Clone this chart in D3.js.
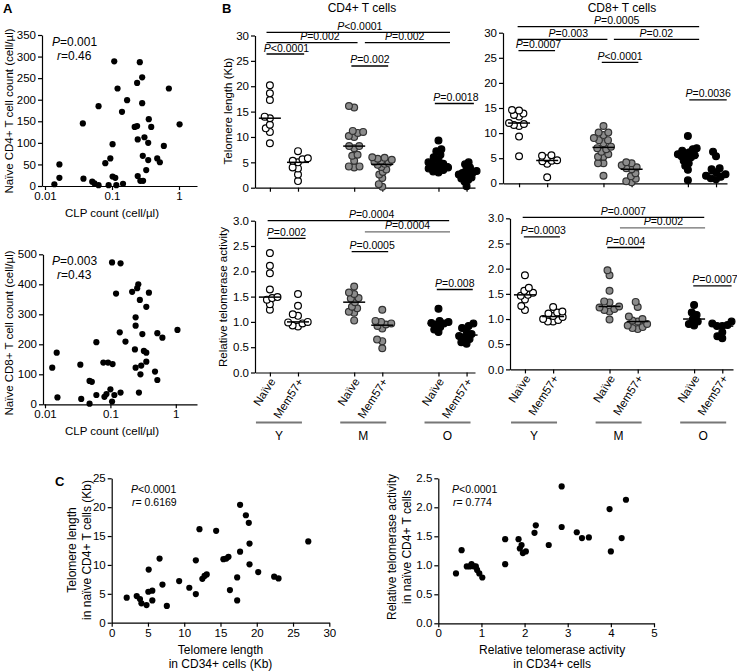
<!DOCTYPE html>
<html><head><meta charset="utf-8">
<script src="https://cdn.jsdelivr.net/npm/d3@7"></script>
<style>body{margin:0;background:#fff} svg{display:block}</style>
</head><body><script>
// ---------- DATA ----------
// Panel A
const clpA1 = [0.0138,0.0164,0.0164,0.0367,0.0375,0.0507,0.0548,0.063,0.063,0.0794,0.0944,0.089,0.102,0.112,0.116,0.108,0.121,0.102,0.141,0.146,0.168,0.218,0.237,0.237,0.26,0.282,0.282,0.242,0.242,0.265,0.291,0.305,0.288,0.324,0.347,0.354,0.385,0.347,0.473,0.518,0.594,0.706,1.02];
const naiveCD4A = [4,50,19,145,17,10,6,185,2,53,64,2,22,19,2,289,226,97,172,5,199,137,139,239,287,252,192,108,23,12,12,113,70,37,60,155,137,100,64,55,93,226,143];
const clpA2 = [0.0129,0.0151,0.0347,0.061,0.106,0.143,0.122,0.139,0.170,0.078,0.092,0.108,0.215,0.267,0.257,0.282,0.388,0.354,0.243,0.243,0.308,0.237,0.325,0.354,0.354,0.296,0.243,0.288,0.522,0.624,1.06,0.481,0.522,0.0155,0.0358,0.048,0.048,0.052,0.061,0.081,0.087,0.1,0.106,0.115,0.143,0.273];
const naiveCD8A = [122,172,132,207,473,470,369,240,209,139,139,134,375,400,387,348,372,325,290,262,234,183,178,172,142,129,122,100,237,222,248,109,81,23,18,2,78,75,31,25,34,50,9,31,39,39];
const statsA = [["=0.001","=0.46"],["=0.003","=0.43"]];

// Panel B
const posB = [0,1,3,4,6,7];
const catLabels = ["Naïve","Mem57+","Naïve","Mem57+","Naïve","Mem57+"];
const ageGroups = ["Y","M","O"];
const cd4Telomere = [
  [20.2,18.6,17.3,14.0,13.7,12.4,11.7,11.0,8.75],
  [7.2,5.8,5.6,5.3,5.0,4.0,3.8,2.6,1.3],
  [16.1,15.8,11.2,11.0,10.8,10.2,10.0,8.2,8.2,7.8,6.5,6.3,5.3,4.2,4.0,4.2],
  [6.0,5.9,5.7,5.5,5.3,5.1,4.9,4.7,4.5,4.1,3.6,3.1,2.6,1.9,0.7,0.2],
  [9.3,7.6,7.2,6.5,6.0,5.5,5.0,4.7,4.5,4.2,4.0,3.8,3.5,3.2,3.0],
  [5.0,4.6,4.0,3.6,3.3,3.0,2.9,2.8,2.6,2.3,2.0,1.8,1.5,1.2,0.3]];
const cd8Telomere = [
  [14.6,14.5,13.9,13.6,13.3,12.0,11.8,11.6,11.4,9.3,5.4],
  [5.6,5.5,5.0,4.6,4.5,4.4,3.9,1.2],
  [11.4,10.1,10.1,9.6,9.0,8.6,8.6,8.0,7.3,7.0,6.8,6.3,5.8,5.3,5.3,4.0,4.0,1.5],
  [4.2,4.0,3.6,3.2,3.0,2.8,2.0,1.4,0.9,0.4,0.2],
  [9.4,7.0,6.8,6.5,6.2,6.0,5.8,5.6,5.4,5.2,5.0,4.5,4.0,3.5,2.7,0.6],
  [6.3,5.4,3.0,2.8,2.2,1.8,1.5,1.3,1.0,0.8]];
const cd4Telomerase = [
  [2.36,2.11,1.96,1.64,1.49,1.47,1.44,1.35,1.24],
  [1.55,1.32,1.15,1.12,1.0,0.99,0.97,0.93,0.91],
  [1.70,1.58,1.55,1.47,1.46,1.39,1.30,1.27,1.20,1.18,1.03],
  [1.24,1.02,1.0,0.97,0.95,0.92,0.87,0.65,0.62,0.48],
  [1.26,1.02,1.0,0.98,0.97,0.95,0.9,0.85,0.8],
  [0.97,0.92,0.88,0.82,0.76,0.72,0.70,0.66,0.60,0.57]];
const cd8Telomerase = [
  [1.87,1.62,1.56,1.52,1.48,1.46,1.39,1.26,1.18],
  [1.24,1.15,1.13,1.11,1.06,1.04,1.0,0.98,0.95,0.95],
  [1.97,1.87,1.56,1.35,1.33,1.25,1.23,1.2,1.18,1.15,0.99],
  [1.34,1.24,1.05,1.0,0.97,0.95,0.9,0.87,0.84,0.82,0.80],
  [1.28,1.13,1.08,1.0,0.95,0.90,0.87],
  [0.95,0.91,0.88,0.86,0.86,0.74,0.66,0.62]];
// significance brackets: a,b = category positions, y = data value, c = text centre, t = text
const pCD4Tel = [
  {a:-0.12,b:6.41,y:30.63,c:3.20,t:"<0.0001"},
  {a:-0.12,b:3.12,y:28.58,c:1.78,t:"=0.002"},
  {a:3.38,b:6.41,y:28.58,c:4.80,t:"=0.002"},
  {a:-0.12,b:1.22,y:26.35,c:0.59,t:"<0.0001"},
  {a:2.9,b:4.21,y:23.99,c:3.56,t:"=0.002"},
  {a:5.87,b:7.26,y:16.6,c:6.62,t:"=0.0018"}];
const pCD8Tel = [
  {a:-0.05,b:6.40,y:31.2,c:3.47,t:"=0.0005"},
  {a:-0.05,b:3.14,y:28.69,c:1.75,t:"=0.003"},
  {a:3.37,b:6.40,y:28.69,c:4.88,t:"=0.02"},
  {a:-0.02,b:1.28,y:26.41,c:0.69,t:"=0.0007"},
  {a:2.94,b:4.24,y:24.1,c:3.59,t:"<0.0001"},
  {a:6.05,b:7.38,y:16.6,c:6.72,t:"=0.0036"}];
const pCD4Act = [
  {a:-0.08,b:6.38,y:3.0,c:3.62,t:"=0.0004"},
  {a:3.38,b:6.41,y:2.78,c:4.90,t:"=0.0004",grey:true},
  {a:-0.06,b:1.27,y:2.65,c:0.59,t:"=0.002"},
  {a:2.91,b:4.21,y:2.39,c:3.64,t:"=0.0005"},
  {a:5.94,b:7.22,y:1.64,c:6.58,t:"=0.008"}];
const pCD8Act = [
  {a:-0.08,b:6.36,y:3.02,c:3.49,t:"=0.0007"},
  {a:3.37,b:6.39,y:2.81,c:4.91,t:"=0.002",grey:true},
  {a:-0.04,b:1.24,y:2.63,c:0.65,t:"=0.0003"},
  {a:2.92,b:4.22,y:2.42,c:3.57,t:"=0.004"},
  {a:5.97,b:7.33,y:1.66,c:6.74,t:"=0.0007"}];

// Panel C
const telCD34 = [2.07,3.45,3.9,4.1,4.8,5.1,5.05,5.6,5.6,6.6,7.0,7.6,9.3,10.7,11.6,11.6,12.1,12.5,12.8,13.1,14.4,15.4,15.8,16.1,16.3,17.3,17.3,17.7,17.7,18.5,18.9,19.0,19.0,20.2,22.4,23.0,27.1];
const telNaiveCD4 = [4.33,4.61,4.1,3.35,3.06,9.2,5.36,5.54,3.86,11.1,6.6,2.9,7.2,6.05,4.96,10.8,16.2,7.6,8.1,8.36,15.9,11.0,11.1,11.4,5.65,3.86,7.84,20.4,12.3,18.6,17.3,13.7,10.1,8.77,7.96,7.67,14.07];
const actCD34 = [0.41,0.54,0.66,0.73,0.77,0.83,0.87,0.9,0.95,1.02,1.55,1.55,1.86,1.89,1.93,1.96,2.03,2.23,2.26,2.56,2.86,2.86,3.21,3.33,3.49,3.97,4.0,4.25,4.35];
const actNaiveCD4 = [0.86,1.26,0.98,0.98,1.02,0.98,0.98,0.92,0.86,0.79,1.45,1.02,1.45,1.29,1.35,1.21,1.24,1.56,1.69,1.35,2.36,1.66,1.57,1.47,1.48,1.97,1.24,1.47,2.13];
const statsC = [["<0.0001","= 0.6169"],["<0.0001","= 0.774"]];

// ---------- DRAW ----------
const F = '"Liberation Sans", Arial, Helvetica, sans-serif';
const svg = d3.select("body").append("svg").attr("width",737).attr("height",672)
  .style("font-family",F);

function styleAxis(g, fs){
  g.attr("font-family",F).attr("font-size",fs);
  g.selectAll(".domain").attr("stroke","#000").attr("stroke-width",1.2);
  g.selectAll(".tick line").attr("stroke","#000").attr("stroke-width",1.2);
  g.selectAll(".tick text").attr("fill","#000");
  return g;
}
function text(x,y,s,opt={}){
  const t = svg.append("text").attr("x",x).attr("y",y).text(s)
    .attr("font-size",opt.fs||11.5).attr("text-anchor",opt.anchor||"start").attr("fill","#000");
  if(opt.rot!==undefined) t.attr("x",null).attr("y",null).attr("transform",`translate(${x},${y}) rotate(${opt.rot})`);
  if(opt.bold) t.attr("font-weight","bold");
  return t;
}
function statText(x,y,sym,rest,fs,anchor){
  const t = svg.append("text").attr("x",x).attr("y",y).attr("font-size",fs).attr("text-anchor",anchor||"start").attr("fill","#000");
  t.append("tspan").attr("font-style","italic").text(sym);
  t.append("tspan").text(rest);
  return t;
}

// Panel labels
text(3,13,"A",{fs:13,bold:true});
text(222,13,"B",{fs:13,bold:true});
text(55,486,"C",{fs:13,bold:true});

// ---- Panel A ----
function scatterA(cfg){
  const dec = cfg.dec;
  const x = d3.scaleLog().domain([Math.pow(10,-2-(45-cfg.x0)/dec), Math.pow(10,-2+(197-45)/dec)]).range([cfg.x0,197]);
  const y = d3.scaleLinear().domain([0,cfg.ymax]).range([cfg.yBot,cfg.yTop]);
  styleAxis(svg.append("g").attr("transform",`translate(0,${cfg.yBot})`)
    .call(d3.axisBottom(x).tickValues([0.01,0.1,1]).tickFormat(d=>d===1?"1":String(d)).tickSize(4).tickSizeOuter(0).tickPadding(2)),11.5);
  styleAxis(svg.append("g").attr("transform",`translate(${cfg.x0},0)`)
    .call(d3.axisLeft(y).tickValues(d3.range(0,cfg.ymax+1,cfg.step)).tickSize(4).tickSizeOuter(0).tickPadding(2)),11.5);
  svg.append("g").selectAll("circle").data(cfg.xs).join("circle")
    .attr("cx",d=>x(d)).attr("cy",(d,i)=>y(cfg.ys[i])).attr("r",3.1).attr("fill","#000");
  statText(52,cfg.yTop+11,"P",cfg.stats[0],12);
  statText(57,cfg.yTop+25,"r",cfg.stats[1],12);
  text(13,cfg.titleY,cfg.ytitle,{rot:-90,anchor:"middle"});
  text(112,cfg.yBot+31,"CLP count (cell/µl)",{anchor:"middle"});
}
scatterA({x0:42,dec:67,ymax:350,step:50,yBot:186,yTop:35,xs:clpA1,ys:naiveCD4A,stats:statsA[0],
  ytitle:"Naïve CD4+ T cell count (cell/µl)",titleY:111});
scatterA({x0:43,dec:65.4,ymax:500,step:100,yBot:404.3,yTop:254.3,xs:clpA2,ys:naiveCD8A,stats:statsA[1],
  ytitle:"Naïve CD8+ T cell count (cell/µl)",titleY:333});

// ---- Panel B ----
function swarm(values, cy, r, halfMax){
  const d = 1.6*r;
  const pts = values.map(v=>({v, y:cy(v)})).sort((a,b)=>b.y-a.y);
  const placed=[];
  pts.forEach(p=>{
    const forb=[];
    placed.forEach(q=>{const dy=Math.abs(q.y-p.y); if(dy<d){const w=Math.sqrt(d*d-dy*dy); forb.push([q.dx-w,q.dx+w]);}});
    const cands=[0]; forb.forEach(f=>cands.push(f[0],f[1]));
    cands.sort((a,b)=>Math.abs(a)-Math.abs(b)||a-b);
    for(const c of cands){ if(forb.every(f=>c<=f[0]+1e-6||c>=f[1]-1e-6)){p.dx=c;break;} }
    placed.push(p);
  });
  const m = d3.max(pts,p=>Math.abs(p.dx));
  if(m>halfMax) pts.forEach(p=>p.dx*=halfMax/m);
  return pts;
}
const fills = ["#fff","#fff","#8c8c8c","#8c8c8c","#000","#000"];
function strip(cfg){
  const x = d3.scaleLinear().domain(cfg.dom).range([cfg.x0,cfg.x1]);
  const y = d3.scaleLinear().domain([0,cfg.ymax]).range([cfg.yBot,cfg.yTop]);
  styleAxis(svg.append("g").attr("transform",`translate(${cfg.x0},0)`)
    .call(d3.axisLeft(y).tickValues(cfg.ticks).tickFormat(cfg.fmt).tickSize(4).tickSizeOuter(0).tickPadding(2)),11.5);
  styleAxis(svg.append("g").attr("transform",`translate(0,${cfg.yBot})`)
    .call(d3.axisBottom(x).tickValues(posB).tickFormat("").tickSize(4).tickSizeOuter(0)),11);
  const r=3.4;
  cfg.data.forEach((vals,i)=>{
    const cx = x(posB[i]);
    const pts = swarm(vals,y,r,10);
    svg.append("g").selectAll("circle").data(pts).join("circle")
      .attr("cx",d=>cx+d.dx).attr("cy",d=>d.y).attr("r",r)
      .attr("fill",fills[i]).attr("stroke",i<2?"#000":(i<4?"#333":"#000")).attr("stroke-width",1.2);
    const med = d3.median(vals);
    svg.append("line").attr("x1",cx-11).attr("x2",cx+11).attr("y1",y(med)).attr("y2",y(med))
      .attr("stroke","#000").attr("stroke-width",1.5);
  });
  cfg.brackets.forEach(b=>{
    const yy = y(b.y);
    svg.append("line").attr("x1",x(b.a)).attr("x2",x(b.b)).attr("y1",yy).attr("y2",yy)
      .attr("stroke",b.grey?"#6e6e6e":"#000").attr("stroke-width",1.3);
    statText(x(b.c),yy-2.5,"P",b.t,10.5,"middle");
  });
  if(cfg.labels){
    posB.forEach((p,i)=>{
      text(x(p)+6,cfg.yBot+9,catLabels[i],{rot:-57,anchor:"end",fs:11.5});
    });
    ageGroups.forEach((a,k)=>{
      const c = x(posB[2*k]+0.5)-5;
      svg.append("line").attr("x1",c-23).attr("x2",c+23).attr("y1",422.5).attr("y2",422.5)
        .attr("stroke","#777").attr("stroke-width",2);
      text(c,440,a,{anchor:"middle",fs:12});
    });
  }
  return x;
}
const tel = d3.range(0,31,5), act = d3.range(0,3.01,0.5);
strip({x0:255,x1:475,dom:[-0.53,7.3],yBot:187.7,yTop:35.5,ymax:30,ticks:tel,fmt:d3.format("d"),data:cd4Telomere,brackets:pCD4Tel});
strip({x0:503,x1:727,dom:[-0.57,7.39],yBot:183.3,yTop:32.7,ymax:30,ticks:tel,fmt:d3.format("d"),data:cd8Telomere,brackets:pCD8Tel});
strip({x0:255,x1:475,dom:[-0.53,7.3],yBot:372.5,yTop:220.7,ymax:3,ticks:act,fmt:d3.format(".1f"),data:cd4Telomerase,brackets:pCD4Act,labels:true});
strip({x0:510,x1:733,dom:[-0.53,7.38],yBot:369.4,yTop:218.3,ymax:3,ticks:act,fmt:d3.format(".1f"),data:cd8Telomerase,brackets:pCD8Act,labels:true});
text(362,12,"CD4+ T cells",{anchor:"middle",fs:12});
text(622,12,"CD8+ T cells",{anchor:"middle",fs:12});
text(232,111,"Telomere length (Kb)",{rot:-90,anchor:"middle"});
text(227,297,"Relative telomerase activity",{rot:-90,anchor:"middle"});

// ---- Panel C ----
function scatterC(cfg){
  const x = d3.scaleLinear().domain([0,cfg.xmax]).range([cfg.x0,cfg.x1]);
  const y = d3.scaleLinear().domain([0,cfg.ymax]).range([cfg.yBot,cfg.yTop]);
  styleAxis(svg.append("g").attr("transform",`translate(0,${cfg.yBot})`)
    .call(d3.axisBottom(x).tickValues(cfg.xt).tickFormat(d3.format("d")).tickSize(4).tickSizeOuter(0).tickPadding(2)),11.5);
  styleAxis(svg.append("g").attr("transform",`translate(${cfg.x0},0)`)
    .call(d3.axisLeft(y).tickValues(cfg.yt).tickFormat(cfg.yf).tickSize(4).tickSizeOuter(0).tickPadding(2)),11.5);
  svg.append("g").selectAll("circle").data(cfg.xs).join("circle")
    .attr("cx",d=>x(d)).attr("cy",(d,i)=>y(cfg.ys[i])).attr("r",3.1).attr("fill","#000");
  statText(cfg.sx,cfg.yTop+15,"P",cfg.stats[0],10.5);
  statText(cfg.sx+1,cfg.yTop+28,"r",cfg.stats[1],10.5);
  text(cfg.t1x,cfg.tcy,cfg.ytitle[0],{rot:-90,anchor:"middle",fs:12});
  text(cfg.t1x+15,cfg.tcy,cfg.ytitle[1],{rot:-90,anchor:"middle",fs:12});
  const xc=(cfg.x0+cfg.x1)/2+cfg.xtOff;
  text(xc,654,cfg.xtitle[0],{anchor:"middle",fs:12});
  text(xc,668,cfg.xtitle[1],{anchor:"middle",fs:12});
}
scatterC({x0:111.7,x1:329.3,xmax:30,yBot:622.7,yTop:478.3,ymax:25,xt:d3.range(0,31,5),yt:d3.range(0,26,5),yf:d3.format("d"),
  xs:telCD34,ys:telNaiveCD4,stats:statsC[0],sx:131,t1x:76,tcy:550,xtOff:0,
  ytitle:["Telomere length","in naïve CD4+ T cells (Kb)"],xtitle:["Telomere length","in CD34+ cells (Kb)"]});
scatterC({x0:438.3,x1:654,xmax:5,yBot:623.3,yTop:478.3,ymax:2.5,xt:d3.range(0,6,1),yt:d3.range(0,2.51,0.5),yf:d3.format(".1f"),
  xs:actCD34,ys:actNaiveCD4,stats:statsC[1],sx:452,t1x:396,tcy:547,xtOff:6,
  ytitle:["Relative telomerase activity","in naïve CD4+ T cells"],xtitle:["Relative telomerase activity","in CD34+ cells"]});
</script></body></html>
